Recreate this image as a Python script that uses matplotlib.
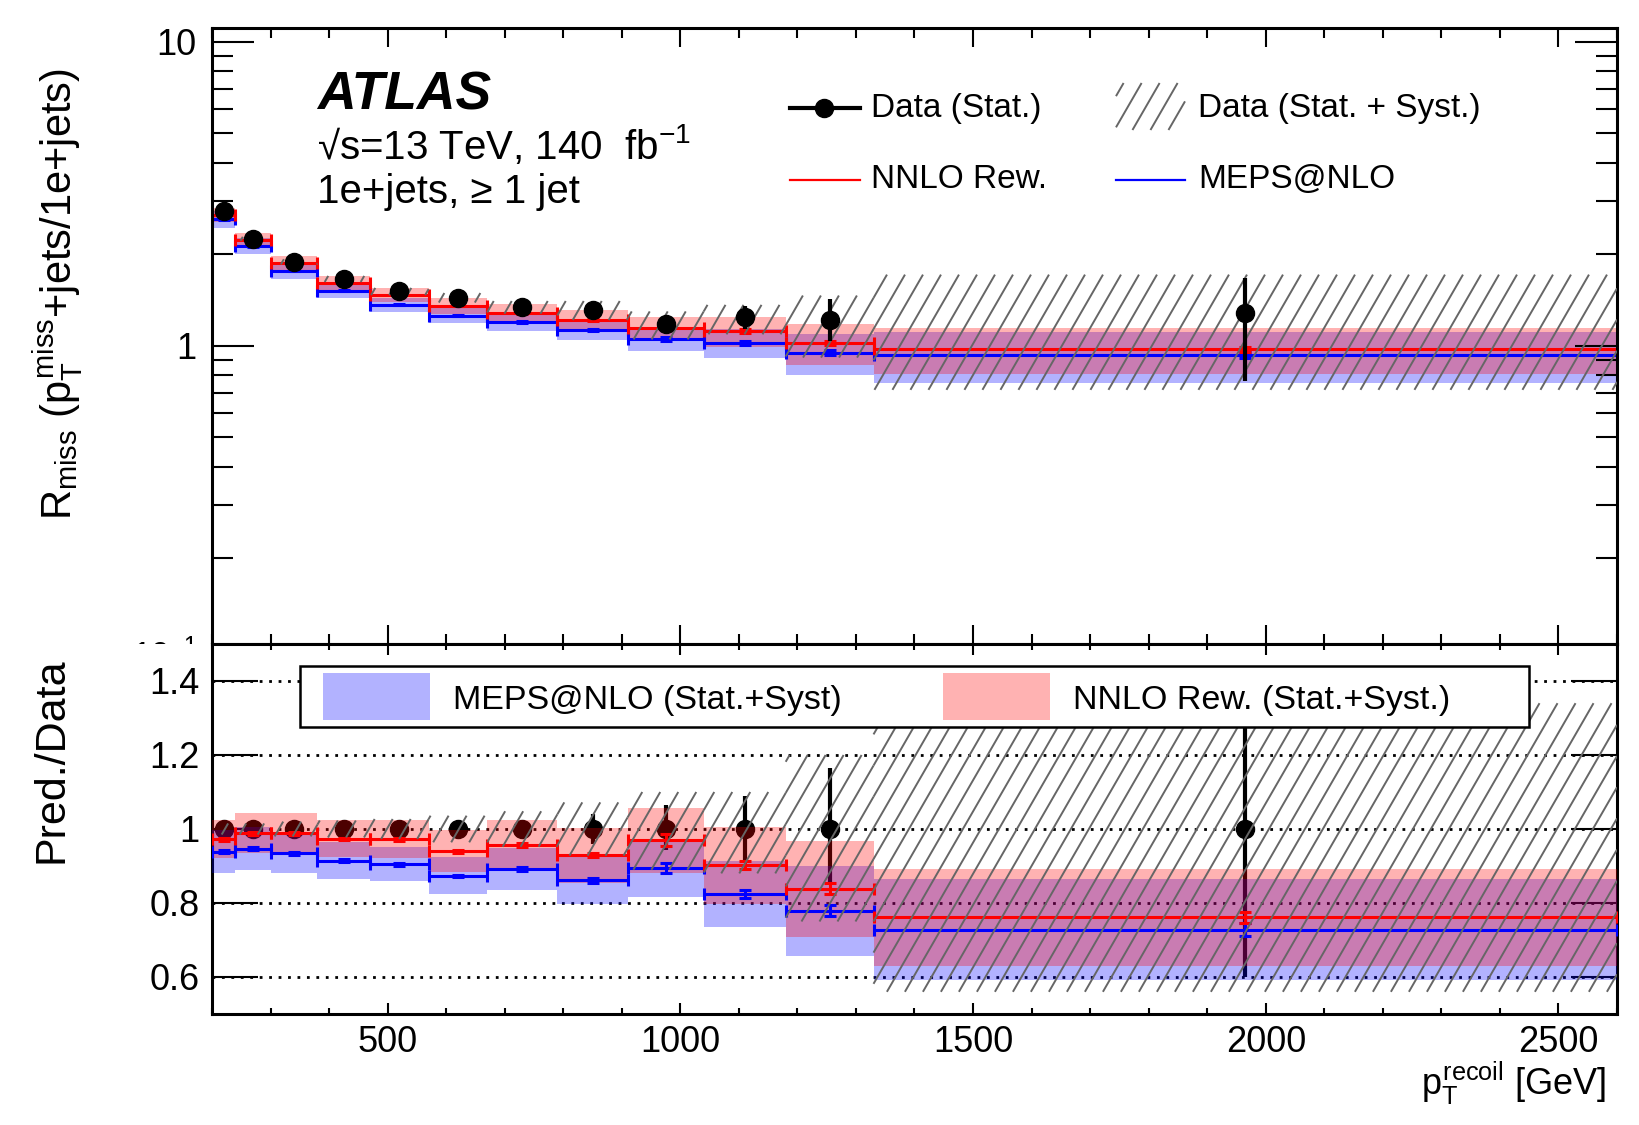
#%% Imports
import numpy as np
import matplotlib
matplotlib.use('Agg')
import matplotlib.pyplot as plt
from matplotlib.collections import LineCollection
from matplotlib.patches import Rectangle
from matplotlib.lines import Line2D
from matplotlib.transforms import IdentityTransform, blended_transform_factory
from matplotlib.ticker import FixedLocator, MultipleLocator, LogLocator, NullFormatter

plt.rcParams['font.family'] = ['Liberation Sans', 'DejaVu Sans']
plt.rcParams['mathtext.fontset'] = 'custom'
plt.rcParams['mathtext.rm'] = 'Liberation Sans'
plt.rcParams['mathtext.it'] = 'Liberation Sans'
plt.rcParams['mathtext.bf'] = 'Liberation Sans:bold'

#%% Data
bin_edges = np.array([200, 240, 300, 380, 470, 570, 670, 790, 910, 1040, 1180, 1330, 2600])
rmiss_data = np.array([2.78, 2.25, 1.89, 1.66, 1.51, 1.44, 1.34, 1.31, 1.18, 1.24, 1.22, 1.28])
# relative uncertainties of the data
data_stat_up = np.array([0.005, 0.005, 0.006, 0.007, 0.008, 0.010, 0.012, 0.040, 0.066, 0.088, 0.165, 0.31])
data_stat_dn = np.array([0.005, 0.005, 0.006, 0.007, 0.008, 0.010, 0.012, 0.040, 0.056, 0.083, 0.150, 0.40])
data_tot_up = np.array([0.015, 0.015, 0.020, 0.023, 0.027, 0.036, 0.048, 0.072, 0.100, 0.100, 0.200, 0.34])
data_tot_dn = np.array([0.015, 0.015, 0.020, 0.023, 0.027, 0.036, 0.048, 0.072, 0.110, 0.120, 0.250, 0.44])

# Pred./Data ratios
nnlo_ratio = np.array([0.972, 0.988, 0.988, 0.973, 0.972, 0.940, 0.956, 0.929, 0.970, 0.902, 0.838, 0.762])
nnlo_band = np.array([0.051, 0.054, 0.054, 0.050, 0.051, 0.056, 0.069, 0.075, 0.088, 0.104, 0.129, 0.131])
nnlo_stat = np.array([0.004, 0.004, 0.004, 0.004, 0.004, 0.004, 0.005, 0.006, 0.016, 0.011, 0.015, 0.015])
meps_ratio = np.array([0.938, 0.947, 0.935, 0.914, 0.905, 0.873, 0.892, 0.861, 0.894, 0.825, 0.779, 0.728])
meps_band = np.array([0.058, 0.058, 0.055, 0.050, 0.046, 0.050, 0.058, 0.063, 0.079, 0.089, 0.121, 0.137])
meps_stat = np.array([0.004, 0.004, 0.004, 0.004, 0.004, 0.004, 0.006, 0.006, 0.014, 0.011, 0.015, 0.018])

centers = 0.5 * (bin_edges[:-1] + bin_edges[1:])
halfw = 0.5 * np.diff(bin_edges)

RED = '#ff0000'
BLUE = '#0000ff'
HATCH = '0.4'
W, H = 1640, 1125


#%% Functions
def hatch_segments(X0, X1, Y0, Y1, s=18.0, angle=60):
    '''Steep "/" hatch lines inside a pixel box, on a common pixel grid.'''
    t = np.tan(np.radians(angle))
    segs = []
    kmin = int(np.floor((X0 - Y1 / t) / s)) - 1
    kmax = int(np.ceil((X1 - Y0 / t) / s)) + 1
    for k in range(kmin, kmax + 1):
        c = k * s
        ylo = max(Y0, (X0 - c) * t)
        yhi = min(Y1, (X1 - c) * t)
        if yhi > ylo:
            segs.append([(c + ylo / t, ylo), (c + yhi / t, yhi)])
    return segs


def hatch_bins(ax, lo, hi, zorder):
    segs = []
    for x0, x1, a, b in zip(bin_edges[:-1], bin_edges[1:], lo, hi):
        p0 = ax.transData.transform((x0, a))
        p1 = ax.transData.transform((x1, b))
        segs += hatch_segments(p0[0], p1[0], p0[1], p1[1])
    lc = LineCollection(segs, colors=HATCH, linewidths=1.4,
                        transform=IdentityTransform(), zorder=zorder)
    ax.add_collection(lc, autolim=False)


def step_band(ax, lo, hi, color, zorder):
    ax.fill_between(bin_edges, np.append(lo, lo[-1]), np.append(hi, hi[-1]),
                    step='post', color=color, alpha=0.3, lw=0, zorder=zorder)


def model(ax, y, yerr, color, zorder):
    ax.errorbar(centers, y, xerr=halfw, yerr=yerr, fmt='none', ecolor=color,
                elinewidth=2.2, capsize=4, capthick=2.2, zorder=zorder)


def style_axes(ax, xmaj, xmin_):
    ax.tick_params(which='both', direction='in', top=True, right=True, width=1.5)
    ax.tick_params(axis='x', which='major', length=xmaj)
    ax.tick_params(axis='x', which='minor', length=xmin_)
    for sp in ax.spines.values():
        sp.set_linewidth(2.2)
    ax.xaxis.set_major_locator(MultipleLocator(500))
    ax.xaxis.set_minor_locator(MultipleLocator(100))
    ax.set_xlim(200, 2600)


#%% Figure
fig = plt.figure(figsize=(W / 100, H / 100), dpi=100)
ax_top = fig.add_axes([212 / W, 1 - 644 / H, 1405 / W, 616 / H])
ax_bot = fig.add_axes([212 / W, 1 - 1014 / H, 1405 / W, 370 / H])
ax_bot.set_zorder(1)

# white strip so the lower pad hides the bottom of the upper pad's labels
fig.patches.append(Rectangle((0, 0), 212 / W, 1 - 644 / H, transform=fig.transFigure,
                             facecolor='white', edgecolor='none', zorder=0.5))

# upper pad
ax_top.set_yscale('log')
ax_top.set_ylim(0.1046, 11.1)
style_axes(ax_top, 14, 7)
ax_top.tick_params(labelbottom=False)
ax_top.tick_params(axis='y', which='major', length=30, labelsize=26, pad=11)
ax_top.tick_params(axis='y', which='minor', length=15)
ax_top.yaxis.set_major_locator(FixedLocator([1, 10]))
ax_top.set_yticklabels(['1', '10'])
ax_top.yaxis.set_minor_locator(LogLocator(base=10, subs=np.arange(2, 10)))
ax_top.yaxis.set_minor_formatter(NullFormatter())
ax_top.text(-0.011, 0.0955, r'$10^{-1}$', fontsize=24, ha='right', va='center', clip_on=False,
            transform=blended_transform_factory(ax_top.transAxes, ax_top.transData))

nnlo_pred = rmiss_data * nnlo_ratio
meps_pred = rmiss_data * meps_ratio
step_band(ax_top, rmiss_data * (meps_ratio - meps_band), rmiss_data * (meps_ratio + meps_band), BLUE, 1)
step_band(ax_top, rmiss_data * (nnlo_ratio - nnlo_band), rmiss_data * (nnlo_ratio + nnlo_band), RED, 1.1)
model(ax_top, meps_pred, rmiss_data * meps_stat, BLUE, 2)
model(ax_top, nnlo_pred, rmiss_data * nnlo_stat, RED, 2.1)
hatch_bins(ax_top, rmiss_data * (1 - data_tot_dn), rmiss_data * (1 + data_tot_up), 3)
ax_top.errorbar(centers, rmiss_data, yerr=[rmiss_data * data_stat_dn, rmiss_data * data_stat_up],
                fmt='o', color='black', ms=13, elinewidth=3, capsize=0, zorder=4)

# lower pad
ax_bot.set_ylim(0.5, 1.5)
style_axes(ax_bot, 8, 4.5)
ax_bot.tick_params(axis='x', which='major', labelsize=26, pad=8)
ax_bot.tick_params(axis='y', which='major', length=33, labelsize=26, pad=9)
ax_bot.yaxis.set_major_locator(FixedLocator([0.6, 0.8, 1.0, 1.2, 1.4]))
ax_bot.set_yticklabels(['0.6', '0.8', '1', '1.2', '1.4'])
ax_bot.yaxis.set_minor_locator(FixedLocator([]))
ax_bot.set_axisbelow(True)
ax_bot.yaxis.grid(True, color='black', lw=2.0, ls=(0, (1, 2.4)))

ones = np.ones_like(rmiss_data)
ax_bot.errorbar(centers, ones, yerr=[data_stat_dn, data_stat_up], fmt='o', color='black',
                ms=13, elinewidth=3, capsize=0, zorder=2)
step_band(ax_bot, meps_ratio - meps_band, meps_ratio + meps_band, BLUE, 3)
step_band(ax_bot, nnlo_ratio - nnlo_band, nnlo_ratio + nnlo_band, RED, 3.1)
model(ax_bot, meps_ratio, meps_stat, BLUE, 4)
model(ax_bot, nnlo_ratio, nnlo_stat, RED, 4.1)
hatch_bins(ax_bot, 1 - data_tot_dn, 1 + data_tot_up, 5)

# lower legend (box with white fill)
ax_bot.add_patch(Rectangle((0.0626, 0.7757), 0.8748, 0.1648, transform=ax_bot.transAxes,
                           facecolor='white', edgecolor='black', lw=1.8, zorder=10))
ax_bot.add_patch(Rectangle((0.079, 0.7946), 0.076, 0.127, transform=ax_bot.transAxes,
                           facecolor=BLUE, alpha=0.3, lw=0, zorder=11))
ax_bot.add_patch(Rectangle((0.5203, 0.7946), 0.076, 0.127, transform=ax_bot.transAxes,
                           facecolor=RED, alpha=0.3, lw=0, zorder=11))
ax_bot.text(0.1715, 0.846, 'MEPS@NLO (Stat.+Syst)', transform=ax_bot.transAxes,
            fontsize=24.5, va='center', ha='left', zorder=12)
ax_bot.text(0.6128, 0.846, 'NNLO Rew. (Stat.+Syst.)', transform=ax_bot.transAxes,
            fontsize=24.5, va='center', ha='left', zorder=12)

# upper legend
y1, y2 = 0.870, 0.754
ax_top.add_line(Line2D([0.4114, 0.4612], [y1, y1], transform=ax_top.transAxes,
                       color='black', lw=3))
ax_top.add_line(Line2D([0.4356], [y1], transform=ax_top.transAxes, marker='o',
                       color='black', ms=13))
ax_top.add_line(Line2D([0.4114, 0.4612], [y2, y2], transform=ax_top.transAxes,
                       color=RED, lw=1.6))
ax_top.add_line(Line2D([0.6434, 0.6925], [y2, y2], transform=ax_top.transAxes,
                       color=BLUE, lw=1.6))
lc = LineCollection(hatch_segments(1116, 1185, H - 130, H - 83), colors=HATCH, linewidths=1.4,
                    transform=IdentityTransform())
ax_top.add_collection(lc, autolim=False)
ax_top.text(0.469, y1, 'Data (Stat.)', transform=ax_top.transAxes, fontsize=24, va='center')
ax_top.text(0.7018, y1, 'Data (Stat. + Syst.)', transform=ax_top.transAxes, fontsize=24, va='center')
ax_top.text(0.469, y2, 'NNLO Rew.', transform=ax_top.transAxes, fontsize=24, va='center')
ax_top.text(0.7018, y2, 'MEPS@NLO', transform=ax_top.transAxes, fontsize=24, va='center')

# labels
fig.text(317 / W, 1 - 96 / H, 'ATLAS', fontsize=38.5, fontweight='bold', style='italic', va='center')
fig.text(317 / W, 1 - 145 / H, '√s=13 TeV, 140  fb$^{-1}$', fontsize=29, va='center')
fig.text(317 / W, 1 - 192 / H, '1e+jets, ≥ 1 jet', fontsize=29, va='center')
fig.text(58 / W, 1 - 294 / H, r'$R_{miss}$ $(p_{T}^{miss}$+jets/1e+jets)', fontsize=30,
         rotation=90, ha='center', va='center')
fig.text(52 / W, 1 - 760 / H, 'Pred./Data', fontsize=31, rotation=90, ha='center', va='center')
fig.text(1606 / W, 1 - 1083 / H, r'$p_{T}^{recoil}$ [GeV]', fontsize=26, ha='right', va='center')

fig.savefig('out.png', dpi=100, facecolor='white')
